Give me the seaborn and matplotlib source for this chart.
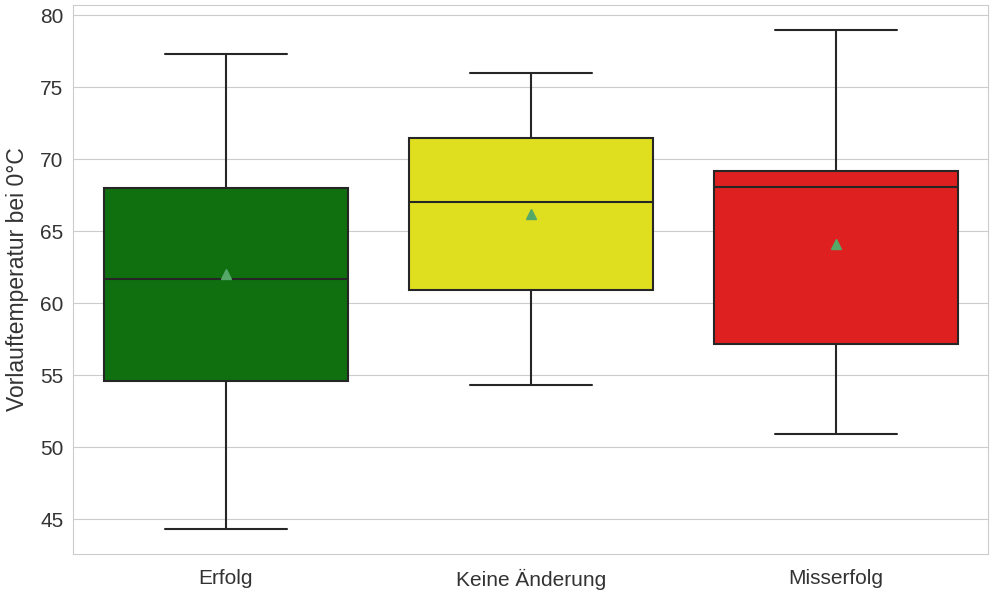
import pandas as pd
import seaborn as sns
import matplotlib.pyplot as plt

# sample values per group (chosen to match quartiles, whiskers and means)
erfolg = [44.3, 52.0, 54.6, 60.0, 61.7, 67.0, 68.0, 73.1, 77.3]
keine_aenderung = [54.3, 58.0, 60.9, 64.0, 67.0, 70.0, 71.5, 74.1, 76.0]
misserfolg = [50.9, 54.0, 57.2, 60.0, 68.1, 68.5, 69.2, 70.0, 79.0]

categories = ["Erfolg", "Keine Änderung", "Misserfolg"]
box_colors = ["green", "yellow", "red"]

df = pd.DataFrame({
    "Ergebnis": [categories[0]] * len(erfolg)
    + [categories[1]] * len(keine_aenderung)
    + [categories[2]] * len(misserfolg),
    "Vorlauftemperatur bei 0°C": erfolg + keine_aenderung + misserfolg,
})

sns.set_style("whitegrid")
plt.rcParams["font.family"] = ["Liberation Sans", "DejaVu Sans"]

fig, ax = plt.subplots(figsize=(9.9, 5.94), dpi=100)
sns.boxplot(
    data=df,
    x="Ergebnis",
    y="Vorlauftemperatur bei 0°C",
    hue="Ergebnis",
    palette=box_colors,
    order=categories,
    showmeans=True,
    meanprops={"marker": "^", "markerfacecolor": "#55a868",
               "markeredgecolor": "#55a868", "markersize": 7},
    linewidth=1.5,
    ax=ax,
)
ax.set_xlabel("")
ax.set_ylabel("Vorlauftemperatur bei 0°C", fontsize=16.5, color="#333333", labelpad=8)
ax.tick_params(axis="both", labelsize=15, colors="#333333")
ax.tick_params(axis="x", pad=7)
fig.subplots_adjust(left=0.074, right=0.998, top=0.992, bottom=0.067)
plt.savefig("out.png")
plt.close()
